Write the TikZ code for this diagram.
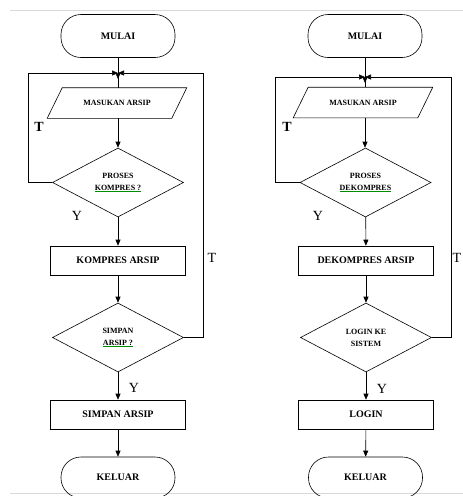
\documentclass[tikz,border=0pt]{standalone}
\usepackage{fontspec}
\setmainfont{Liberation Serif}
\usetikzlibrary{positioning, arrows.meta, shapes.geometric, calc}

% spell-check style underline
\newcommand{\spellmark}[1]{%
    {\color{green!55!black}\underline{\color{black}#1}}}

\begin{document}
\begin{tikzpicture}[
        x=1pt,
        y=-1pt,
        line width=0.6pt,
        flowline/.style={
            -{Triangle[length=6pt,width=5pt]}
        },
        terminal/.style={
            rectangle,
            draw,
            rounded corners=20pt,
            minimum width=114pt,
            minimum height=43pt,
            font=\fontsize{10}{12}\selectfont\bfseries
        },
        inputbox/.style={
            rectangle,
            minimum width=124pt,
            minimum height=30pt,
            inner sep=0pt,
            font=\fontsize{8}{10}\selectfont\bfseries,
            append after command={
                \pgfextra{\let\boxname\tikzlastnode}
                ([xshift=7.5pt]\boxname.north west)
                -- ([xshift=7.5pt]\boxname.north east)
                -- ([xshift=-7.5pt]\boxname.south east)
                -- ([xshift=-7.5pt]\boxname.south west)
                -- cycle
            }
        },
        processbox/.style={
            rectangle,
            draw,
            minimum width=135pt,
            minimum height=29pt,
            font=\fontsize{10}{12}\selectfont\bfseries
        },
        decision/.style={
            diamond,
            draw,
            aspect=2,
            inner sep=0pt,
            minimum width=131pt,
            minimum height=69pt,
            align=center,
            font=\fontsize{8}{12}\selectfont\bfseries
        },
        answer/.style={
            font=\fontsize{14}{14}\selectfont
        }
    ]

    \useasboundingbox (0,0) rectangle (463,496);

    % --------------------------------------------------------
    % Screenshot frame lines
    % --------------------------------------------------------

    \draw[
        gray!30,
        line width=0.8pt
    ]
    (10,10) -- (463,10);

    \draw[
        gray!30,
        line width=0.8pt
    ]
    (10,493) -- (463,493);

    % --------------------------------------------------------
    % Left chart: kompres
    % --------------------------------------------------------

    \node[terminal] (mulaiK) at (118,36) {MULAI};
    \coordinate (joinK) at (118,73);
    \draw node[inputbox] (inputK) at (117,103) {MASUKAN ARSIP};
    \node[decision] (tanyaK) at (118,182.5)
        {PROSES\\\spellmark{KOMPRES ?}};
    \node[processbox] (kompres) at (118,260.5) {KOMPRES ARSIP};
    \node[decision] (tanyaSimpan) at (118,337.5)
        {SIMPAN\\\spellmark{ARSIP ?}};
    \node[processbox] (simpan) at (118,414.5) {SIMPAN ARSIP};
    \node[terminal, minimum height=41pt] (keluarK) at (118,477.5) {KELUAR};

    \coordinate (loopKL) at (28,73);
    \coordinate (loopKR) at (203,73);

    \draw[flowline, shorten >=-6pt] (mulaiK) -- (joinK);
    \draw (joinK) -- (joinK |- inputK.north);
    \draw[flowline] (inputK.south -| joinK) -- (tanyaK);
    \draw[flowline] (tanyaK) -- (kompres);
    \draw[flowline] (kompres) -- (tanyaSimpan);
    \draw[flowline] (tanyaSimpan) -- (simpan);
    \draw[flowline] (simpan) -- (keluarK);

    \draw[flowline] (tanyaK.west) -| (loopKL) -- (joinK);
    \draw[flowline] (tanyaSimpan.east) -| (loopKR) -- (joinK);

    \node[answer, font=\fontsize{14}{14}\selectfont\bfseries] (tK1) at (39,127) {T};
    \node[answer] (yK1) at (77,216) {Y};
    \node[answer] (tK2) at (212,258) {T};
    \node[answer] (yK2) at (134,388) {Y};

    % --------------------------------------------------------
    % Right chart: dekompres
    % --------------------------------------------------------

    \node[terminal] (mulaiD) at (365,36) {MULAI};
    \coordinate (joinD) at (365,77);
    \draw node[inputbox] (inputD) at (363,102.5) {MASUKAN ARSIP};
    \node[decision] (tanyaD) at (365.5,182.5)
        {PROSES\\\spellmark{DEKOMPRES}};
    \node[processbox] (dekompres) at (366,260.5) {DEKOMPRES ARSIP};
    \node[decision] (tanyaLogin) at (366,337.5)
        {LOGIN KE\\SISTEM};
    \node[processbox] (login) at (366,414.5) {LOGIN};
    \node[terminal, minimum height=41pt] (keluarD) at (365.5,477.5) {KELUAR};

    \coordinate (loopDL) at (275,77);
    \coordinate (loopDR) at (451,77);

    \draw[flowline, shorten >=-6pt] (mulaiD) -- (joinD);
    \draw (joinD) -- (joinD |- inputD.north);
    \draw[flowline] (inputD.south -| joinD) -- (joinD |- tanyaD.north);
    \draw[flowline] (tanyaD) -- (dekompres);
    \draw[flowline] (dekompres) -- (tanyaLogin);
    \draw[flowline] (tanyaLogin) -- (login);
    \draw[flowline] (login) -- (keluarD);

    \draw[flowline] (tanyaD.west) -| (loopDL) -- (joinD);
    \draw[flowline] (tanyaLogin.east) -| (loopDR) -- (joinD);

    \node[answer, font=\fontsize{14}{14}\selectfont\bfseries] (tD1) at (287,127) {T};
    \node[answer] (yD1) at (318,216) {Y};
    \node[answer] (tD2) at (457,258) {T};
    \node[answer] (yD2) at (382,389) {Y};

\end{tikzpicture}
\end{document}
